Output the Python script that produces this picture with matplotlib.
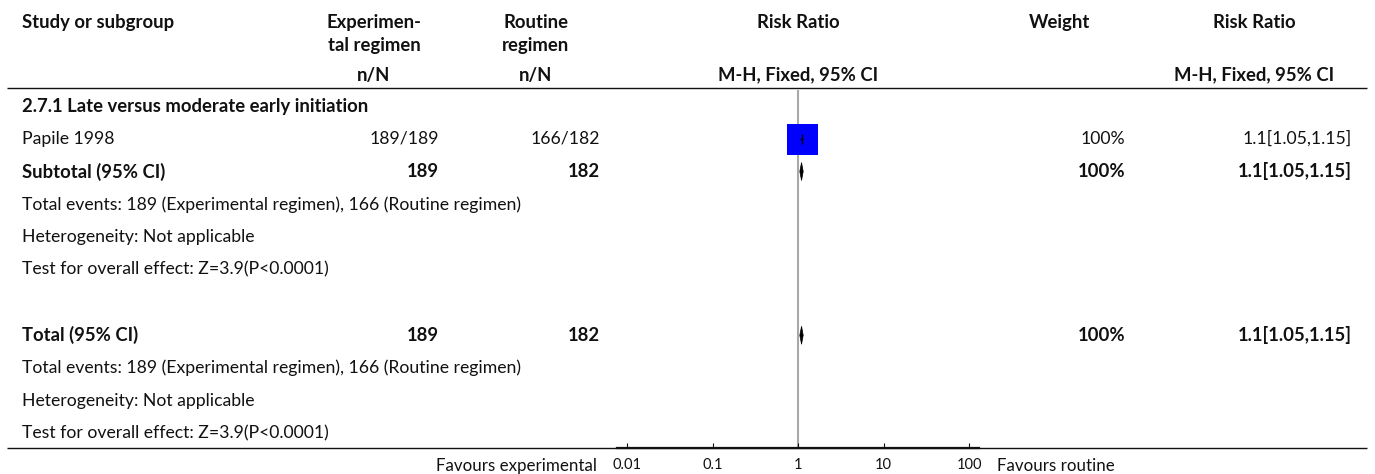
import matplotlib
matplotlib.use("Agg")
import matplotlib.pyplot as plt
from matplotlib.patches import Polygon
from matplotlib.ticker import NullLocator

plt.rcParams['font.family'] = ['Lato', 'DejaVu Sans']

# ---- data -------------------------------------------------------------
group_label = "2.7.1 Late versus moderate early initiation"
studies = ["Papile 1998"]
exp_events = [189]
exp_total = [189]
ctl_events = [166]
ctl_total = [182]
study_rr = [1.1]
study_lo = [1.05]
study_hi = [1.15]
study_weight = [100]

pooled_rr = 1.1
pooled_lo = 1.05
pooled_hi = 1.15
z_value = 3.9
p_text = "P<0.0001"
heterogeneity = "Not applicable"

exp_name = "Experimental regimen"
ctl_name = "Routine regimen"

tick_values = [0.01, 0.1, 1, 10, 100]
tick_labels = ["0.01", "0.1", "1", "10", "100"]

# ---- layout (pixels) --------------------------------------------------
W, H = 1375, 474
ROW0, STEP = 106, 32.75
FS = 12.7
FS_BOLD = 13.3
X_STUDY = 22
X_EXP_C, X_EXP_R = 374, 439
X_CTL_C, X_CTL_R = 536, 600
X_PLOT_C = 798
X_WT_C, X_WT_R = 1060, 1125
X_RR_C, X_RR_R = 1254, 1352
PX0, PX1, PY0, PY1 = 617, 979, 88, 448
PX_PER_DECADE = 85.5


def row_y(i):
    return ROW0 + STEP * i


fig = plt.figure(figsize=(W / 100, H / 100), dpi=100)
tab = fig.add_axes([0, 0, 1, 1])
tab.set_xlim(0, W)
tab.set_ylim(H, 0)
tab.axis('off')


def txt(x, y, s, ha='left', bold=False, size=None):
    if size is None:
        size = FS_BOLD if bold else FS
    tab.text(x, y, s, ha=ha, va='center', fontsize=size,
             fontweight='bold' if bold else 'normal', color='#111111')


# header
txt(X_STUDY, 22, "Study or subgroup", bold=True)
txt(X_EXP_C, 22, "Experimen-", ha='center', bold=True)
txt(X_EXP_C, 45, "tal regimen", ha='center', bold=True)
txt(X_EXP_C, 75, "n/N", ha='center', bold=True)
txt(X_CTL_C, 22, "Routine", ha='center', bold=True)
txt(X_CTL_C, 45, "regimen", ha='center', bold=True)
txt(X_CTL_C, 75, "n/N", ha='center', bold=True)
txt(X_PLOT_C, 22, "Risk Ratio", ha='center', bold=True)
txt(X_PLOT_C, 75, "M-H, Fixed, 95% CI", ha='center', bold=True)
txt(X_WT_C, 22, "Weight", ha='center', bold=True)
txt(X_RR_C, 22, "Risk Ratio", ha='center', bold=True)
txt(X_RR_C, 75, "M-H, Fixed, 95% CI", ha='center', bold=True)

tab.plot([7, 1367], [PY0, PY0], color='#111111', lw=1.0, solid_capstyle='butt')
tab.plot([7, 1367], [PY1, PY1], color='#111111', lw=1.0, solid_capstyle='butt')


def rr_text(rr, lo, hi):
    return f"{rr:g}[{lo:g},{hi:g}]"


# forest panel
ax = fig.add_axes([PX0 / W, 1 - PY1 / H, (PX1 - PX0) / W, (PY1 - PY0) / H])
ax.set_xscale('log')
half = (PX1 - PX0) / 2 / PX_PER_DECADE
ax.set_xlim(10 ** -half, 10 ** half)
ax.set_ylim(PY1, PY0)
ax.patch.set_alpha(0)
for side in ('top', 'left', 'right'):
    ax.spines[side].set_visible(False)
ax.spines['bottom'].set_linewidth(1.6)
ax.spines['bottom'].set_color('#111111')
ax.set_yticks([])
ax.set_xticks(tick_values)
ax.set_xticklabels(tick_labels)
ax.xaxis.set_minor_locator(NullLocator())
ax.tick_params(axis='x', direction='in', length=3.5, width=0.8,
               labelsize=10.5, pad=7, colors='#111111')

ax.vlines(1, PY1, 90, color='#a8a8a8', lw=1.5, zorder=1)

# group heading and study rows
txt(X_STUDY, row_y(0), group_label, bold=True)
for k, name in enumerate(studies):
    y = row_y(1 + k)
    txt(X_STUDY, y, name)
    txt(X_EXP_R, y, f"{exp_events[k]}/{exp_total[k]}", ha='right')
    txt(X_CTL_R, y, f"{ctl_events[k]}/{ctl_total[k]}", ha='right')
    txt(X_WT_R, y, f"{study_weight[k]:g}%", ha='right')
    txt(X_RR_R, y, rr_text(study_rr[k], study_lo[k], study_hi[k]), ha='right')
    ax.plot([study_rr[k]], [y], marker='s', ms=31 * 0.72, color='#0000ff',
            mec='#0000ff', mew=0, zorder=3)
    ax.hlines(y, study_lo[k], study_hi[k], color='black', lw=1.0, zorder=4)
    ax.plot([study_rr[k]], [y], marker='|', ms=7, mew=1.0, color='black', zorder=4)


def pooled_block(start, label):
    y = row_y(start)
    txt(X_STUDY, y, label, bold=True)
    txt(X_EXP_R, y, f"{sum(exp_total)}", ha='right', bold=True)
    txt(X_CTL_R, y, f"{sum(ctl_total)}", ha='right', bold=True)
    txt(X_WT_R, y, f"{sum(study_weight):g}%", ha='right', bold=True)
    txt(X_RR_R, y, rr_text(pooled_rr, pooled_lo, pooled_hi), ha='right', bold=True)
    dh = 9
    ax.add_patch(Polygon([(pooled_lo, y), (pooled_rr, y - dh), (pooled_hi, y),
                          (pooled_rr, y + dh)], closed=True, fc='black',
                         ec='black', lw=0.5, zorder=4))
    txt(X_STUDY, row_y(start + 1),
        f"Total events: {sum(exp_events)} ({exp_name}), {sum(ctl_events)} ({ctl_name})")
    txt(X_STUDY, row_y(start + 2), f"Heterogeneity: {heterogeneity}")
    txt(X_STUDY, row_y(start + 3), f"Test for overall effect: Z={z_value:g}({p_text})")


pooled_block(2, "Subtotal (95% CI)")
pooled_block(7, "Total (95% CI)")

# favours labels
txt(597, 466, "Favours experimental", ha='right', size=12.2)
txt(997, 466, "Favours routine", ha='left', size=12.2)

fig.savefig("out.png", dpi=100)
